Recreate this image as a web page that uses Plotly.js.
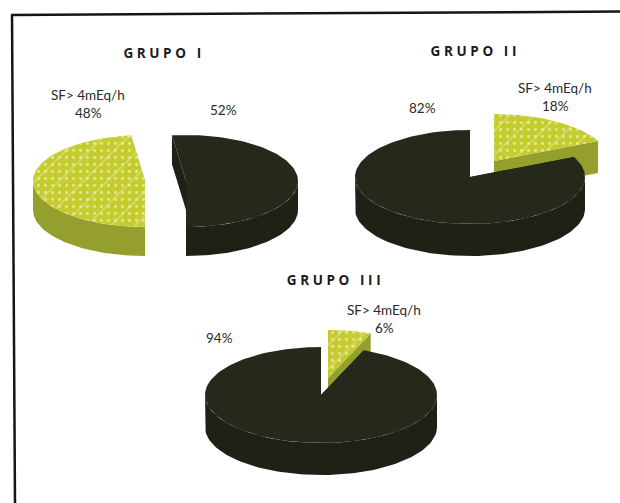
<!DOCTYPE html>
<html>
<head>
<meta charset="utf-8">
<script src="https://cdn.plot.ly/plotly-3.0.0.min.js"></script>
<style>html,body{margin:0;padding:0;background:#fff}#chart{width:620px;height:503px}</style>
</head>
<body>
<div id="chart"></div>
<script>
// Share of patients per group, in percent
const groupNames = ['GRUPO I', 'GRUPO II', 'GRUPO III'];
const sfShare = [48, 18, 6];
const otherShare = [52, 82, 94];
const sfLabel = 'SF> 4mEq/h';

// Pie placement on a 620x503 canvas: centre of each exploded slice and its ellipse
const sfCentres = [[145, 181], [494, 161], [328, 378]];
const otherCentres = [[186, 181], [470, 177], [321, 395]];
const radiiX = [112, 115, 116];
const radiiY = [46, 47, 48];
const depths = [29, 32, 32];
// Angle, clockwise from the top, at which the yellow slice starts
const sfStartDeg = [180, 0, 0];

const titlePos = [[164, 53], [475, 51], [335, 280]];
const sfLabelPos = [[88, 95], [555, 88], [384, 310]];
const otherLabelPos = [[223, 110], [422, 108], [219, 338]];

const yellowTop = '#c4cc2e', yellowSide = '#959f2e', yellowSpeck = '#eef0c0';
const darkTop = '#25291b', darkSide = '#1e2216';
const STEP = 2;

function pt(c, rx, ry, deg, dy) {
  const a = deg * Math.PI / 180;
  return [c[0] + rx * Math.sin(a), c[1] - ry * Math.cos(a) + (dy || 0)];
}

function arc(c, rx, ry, from, to, dy) {
  const out = [];
  for (let d = from; d < to; d += STEP) out.push(pt(c, rx, ry, d, dy));
  out.push(pt(c, rx, ry, to, dy));
  return out;
}

function poly(points, color, extra) {
  return Object.assign({
    type: 'scatter', mode: 'lines', hoverinfo: 'skip', showlegend: false,
    x: points.map(p => p[0]), y: points.map(p => p[1]),
    fill: 'toself', fillcolor: color, line: {width: 0, color: color}
  }, extra || {});
}

// Extruded wedge: cut faces, outer wall, then the lid
function wedge(c, rx, ry, depth, from, to, top, side, extra) {
  const parts = [];
  [from, to].forEach(ang => {
    const o = pt(c, rx, ry, ang);
    parts.push(poly([c, o, [o[0], o[1] + depth], [c[0], c[1] + depth]], side));
  });
  // Only the part of the wall facing the viewer (90..270 degrees) is visible
  const a = Math.max(from, 90), b = Math.min(to, 270);
  if (b > a) {
    parts.push(poly(arc(c, rx, ry, a, b).concat(arc(c, rx, ry, a, b, depth).reverse()), side));
  }
  parts.push(poly([c].concat(arc(c, rx, ry, from, to)), top));
  if (extra) {
    extra.forEach(pattern => {
      parts.push(poly([c].concat(arc(c, rx, ry, from, to)), 'rgba(0,0,0,0)', {fillpattern: pattern}));
    });
  }
  return parts;
}

// Fine mottling on the yellow lids
const speckles = [
  {shape: '.', size: 7, solidity: 0.14, fgcolor: yellowSpeck, fgopacity: 0.75, bgcolor: 'rgba(0,0,0,0)'},
  {shape: '/', size: 17, solidity: 0.07, fgcolor: yellowSpeck, fgopacity: 0.55, bgcolor: 'rgba(0,0,0,0)'}
];

const traces = [];
groupNames.forEach((name, i) => {
  const sfSweep = sfShare[i] * 3.6;
  const sfFrom = sfStartDeg[i];
  const sfTo = sfFrom + sfSweep;
  const otherFrom = sfStartDeg[i] === 0 ? sfTo : sfTo - 360;
  const otherTo = otherFrom + otherShare[i] * 3.6;
  traces.push(...wedge(sfCentres[i], radiiX[i], radiiY[i], depths[i], sfFrom, sfTo, yellowTop, yellowSide, speckles));
  traces.push(...wedge(otherCentres[i], radiiX[i], radiiY[i], depths[i], otherFrom, otherTo, darkTop, darkSide));
});

const annotations = [];
function addText(text, pos, size, bold) {
  annotations.push({
    text: bold ? '<b>' + text + '</b>' : text,
    x: pos[0], y: pos[1], xref: 'x', yref: 'y', showarrow: false,
    xanchor: 'center', yanchor: 'middle',
    font: {family: bold ? '"Open Sans", sans-serif' : 'Lato, sans-serif', size: size, color: bold ? '#1a1a1a' : '#2a2a2a'}
  });
}
groupNames.forEach((name, i) => {
  addText(name, titlePos[i], 13.5, true);
  addText(sfLabel, sfLabelPos[i], 13.5, false);
  addText(sfShare[i] + '%', [sfLabelPos[i][0], sfLabelPos[i][1] + 18], 13.5, false);
  addText(otherShare[i] + '%', otherLabelPos[i], 13.5, false);
});

const frameLine = {color: '#151515', width: 2.5};
const layout = {
  width: 620, height: 503,
  margin: {l: 0, r: 0, t: 0, b: 0},
  paper_bgcolor: '#ffffff', plot_bgcolor: '#ffffff',
  xaxis: {range: [0, 620], visible: false, fixedrange: true},
  yaxis: {range: [503, 0], visible: false, fixedrange: true},
  showlegend: false,
  annotations: annotations,
  shapes: [
    {type: 'line', xref: 'x', yref: 'y', x0: 11, y0: 15, x1: 620, y1: 11.5, line: frameLine},
    {type: 'line', xref: 'x', yref: 'y', x0: 12, y0: 15, x1: 15, y1: 503, line: frameLine}
  ]
};

Plotly.newPlot('chart', traces, layout, {displayModeBar: false, staticPlot: true}).then(() => {
  // Open tracking on the group headings
  document.querySelectorAll('.annotation-text').forEach(t => {
    if (t.textContent.indexOf('GRUPO') === 0) t.style.letterSpacing = '3.6px';
  });
});
</script>
</body>
</html>
